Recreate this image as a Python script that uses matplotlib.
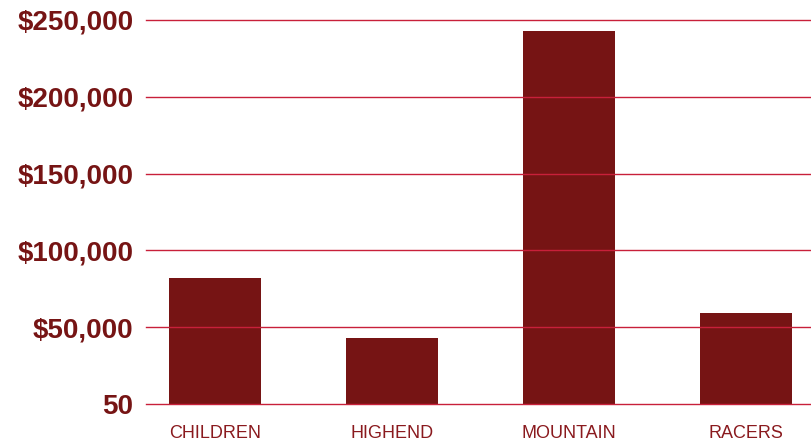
import matplotlib
matplotlib.use('Agg')
import matplotlib.pyplot as plt

categories = ['CHILDREN', 'HIGHEND', 'MOUNTAIN', 'RACERS']
sales = [82000, 43000, 243000, 59000]
yticks = [50, 50000, 100000, 150000, 200000, 250000]
ylabels = ['50', '$50,000', '$100,000', '$150,000', '$200,000', '$250,000']

plt.rcParams['font.family'] = ['Liberation Sans', 'DejaVu Sans']

fig = plt.figure(figsize=(8.12, 4.41), dpi=100)
ax = fig.add_axes([146/812, 1 - 404/441, 1 - 146/812, 384/441])

ax.bar(range(len(categories)), sales, width=0.52, color='#761414', zorder=1)
for y in yticks:
    ax.axhline(y, color='#c8203a', lw=1.0, zorder=2, clip_on=False)

ax.set_xlim(-0.39, 3.373)
ax.set_ylim(50, 250000)
ax.set_yticks(yticks)
ax.set_yticklabels(ylabels, fontsize=20, fontweight='bold', color='#761414')
ax.set_xticks(range(len(categories)))
ax.set_xticklabels(categories, fontsize=13, color='#8a1a1e')
ax.tick_params(axis='y', length=0, pad=9)
ax.tick_params(axis='x', length=0, pad=15)
for s in ax.spines.values():
    s.set_visible(False)

fig.savefig('out.png', dpi=100)
